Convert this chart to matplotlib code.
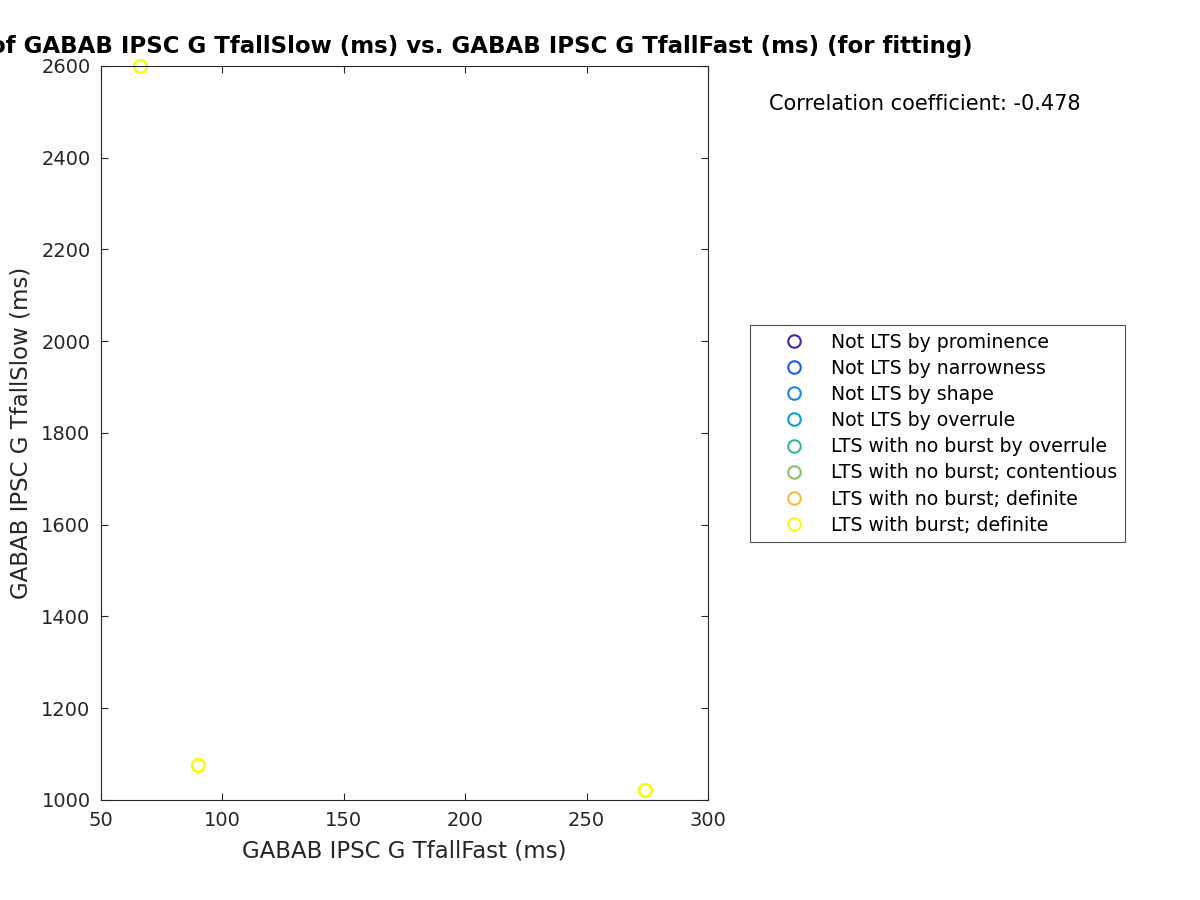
import matplotlib
matplotlib.use("Agg")
import matplotlib.pyplot as plt

# groups shown in the legend
group_labels = [
    "Not LTS by prominence",
    "Not LTS by narrowness",
    "Not LTS by shape",
    "Not LTS by overrule",
    "LTS with no burst by overrule",
    "LTS with no burst; contentious",
    "LTS with no burst; definite",
    "LTS with burst; definite",
]

# GABAB IPSC G TfallFast (ms) / TfallSlow (ms) per group
tfall_fast = [[], [], [], [], [], [], [], [66, 90, 274]]
tfall_slow = [[], [], [], [], [], [], [], [2600, 1076, 1021]]

corr_coef = -0.478

x_ticks = [50, 100, 150, 200, 250, 300]
y_ticks = [1000, 1200, 1400, 1600, 1800, 2000, 2200, 2400, 2600]

# parula(8)
colors = [
    (0.2422, 0.1504, 0.6603),
    (0.1047, 0.3616, 0.9066),
    (0.0906, 0.5375, 0.8575),
    (0.0236, 0.6495, 0.7758),
    (0.2037, 0.7259, 0.5893),
    (0.5410, 0.7586, 0.3955),
    (0.9814, 0.7315, 0.2389),
    (0.9769, 0.9839, 0.0805),
]

fig = plt.figure(figsize=(12, 9), dpi=100)
ax = fig.add_axes([101 / 1200, 1 - 800 / 900, 607 / 1200, 734 / 900])

for xs, ys, lab, c in zip(tfall_fast, tfall_slow, group_labels, colors):
    ax.plot(xs, ys, linestyle="none", marker="o", markersize=9,
            markerfacecolor="none", markeredgecolor=c, markeredgewidth=2,
            label=lab, clip_on=False)

ax.set_xlim(50, 300)
ax.set_ylim(1000, 2600)
ax.set_xticks(x_ticks)
ax.set_yticks(y_ticks)
ax.tick_params(direction="in", top=True, right=True, length=5, width=0.8,
               labelsize=14, colors="#262626")
ax.tick_params(axis="x", pad=8)
ax.tick_params(axis="y", pad=7.5)
for s in ax.spines.values():
    s.set_linewidth(0.8)
    s.set_color("#262626")

ax.set_xlabel("GABAB IPSC G TfallFast (ms)", fontsize=16.5, color="#262626", labelpad=7)
ax.set_ylabel("GABAB IPSC G TfallSlow (ms)", fontsize=16.5, color="#262626", labelpad=6.5)

fig.text(973 / 1200, 1 - 47 / 900,
         "of GABAB IPSC G TfallSlow (ms) vs. GABAB IPSC G TfallFast (ms) (for fitting)",
         ha="right", va="center", fontsize=16.5, fontweight="bold")

fig.text(769 / 1200, 1 - 104 / 900, f"Correlation coefficient: {corr_coef}",
         ha="left", va="center", fontsize=15)

leg = fig.legend(loc="upper left", bbox_to_anchor=(750 / 1200, 1 - 325 / 900),
                 borderaxespad=0, fontsize=13.6, frameon=True, fancybox=False,
                 edgecolor="#262626", labelspacing=0.38, handletextpad=0.05,
                 borderpad=0.4, handlelength=3.85)
leg.get_frame().set_linewidth(0.8)
for h in leg.legend_handles:
    h.set_markersize(9)
    h.set_markeredgewidth(1.5)

fig.savefig("out.png", dpi=100)
